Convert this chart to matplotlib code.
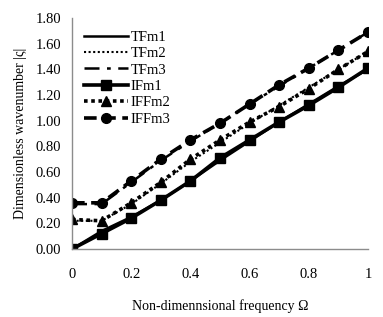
import numpy as np
import matplotlib
matplotlib.use("Agg")
import matplotlib.pyplot as plt

plt.rcParams['font.family'] = ['Liberation Serif', 'DejaVu Serif']

# non-dimensional frequency
omega = [0, 0.1, 0.2, 0.3, 0.4, 0.5, 0.6, 0.7, 0.8, 0.9, 1.0]

# theoretical curves
tfm1 = [0.00, 0.14, 0.25, 0.38, 0.53, 0.69, 0.84, 0.99, 1.13, 1.27, 1.40]
tfm2 = [0.22, 0.22, 0.35, 0.51, 0.68, 0.83, 0.98, 1.12, 1.26, 1.40, 1.54]
tfm3 = [0.35, 0.35, 0.52, 0.69, 0.84, 0.98, 1.13, 1.27, 1.41, 1.55, 1.69]

# markers
ifm1 = [0.00, 0.12, 0.24, 0.38, 0.53, 0.71, 0.85, 0.99, 1.12, 1.26, 1.41]
iffm2 = [0.23, 0.22, 0.36, 0.52, 0.70, 0.85, 0.99, 1.11, 1.25, 1.40, 1.54]
iffm3 = [0.36, 0.36, 0.53, 0.70, 0.85, 0.98, 1.13, 1.28, 1.41, 1.55, 1.69]

xticks = [0, 0.2, 0.4, 0.6, 0.8, 1]
xticklabels = ['0', '0.2', '0.4', '0.6', '0.8', '1']
yticks = np.arange(0, 1.81, 0.2)

fs = 10.5

fig = plt.figure(figsize=(3.83, 3.17), dpi=100)
ax = fig.add_axes([0.188, 0.2145, 0.773, 0.7285])

ax.plot(omega, tfm1, color='black', lw=1.8, ls='-', label='TFm1')
ax.plot(omega, tfm2, color='black', lw=1.5, ls=(0, (1, 1.2)), label='TFm2')
ax.plot(omega, tfm3, color='black', lw=1.8, ls=(0, (6, 3, 1.5, 3)), label='TFm3')
ax.plot(omega, ifm1, color='black', lw=2.6, ls='-', marker='s', ms=7, label='IFm1')
ax.plot(omega, iffm2, color='black', lw=2.6, ls=(0, (1, 1)), marker='^', ms=7, label='IFFm2')
ax.plot(omega, iffm3, color='black', lw=2.6, ls=(0, (3.5, 1.8)), marker='o', ms=7, label='IFFm3')

ax.set_xlim(0, 1)
ax.set_ylim(0, 1.8)
ax.set_xticks(xticks)
ax.set_xticklabels(xticklabels)
ax.set_yticks(yticks)
ax.set_yticklabels(['%.2f' % v for v in yticks])
ax.tick_params(length=0, labelsize=fs, pad=8)
ax.tick_params(axis='x', pad=14)
for s in ['top', 'right']:
    ax.spines[s].set_visible(False)
for s in ['left', 'bottom']:
    ax.spines[s].set_color('#8c8c8c')
    ax.spines[s].set_linewidth(1)
for lab in ax.get_xticklabels() + ax.get_yticklabels():
    lab.set_clip_on(False)

ax.set_xlabel('Non-dimennsional frequency \u03a9', fontsize=10, labelpad=13)
ax.set_ylabel('Dimensionless wavenumber |\u03c2|', fontsize=10, labelpad=6)

ax.legend(loc='upper left', bbox_to_anchor=(0.0, 1.0), frameon=False,
          fontsize=fs, handlelength=3.0, handletextpad=0.15,
          labelspacing=0.22, borderaxespad=0.45)

fig.savefig('out.png', dpi=100)
